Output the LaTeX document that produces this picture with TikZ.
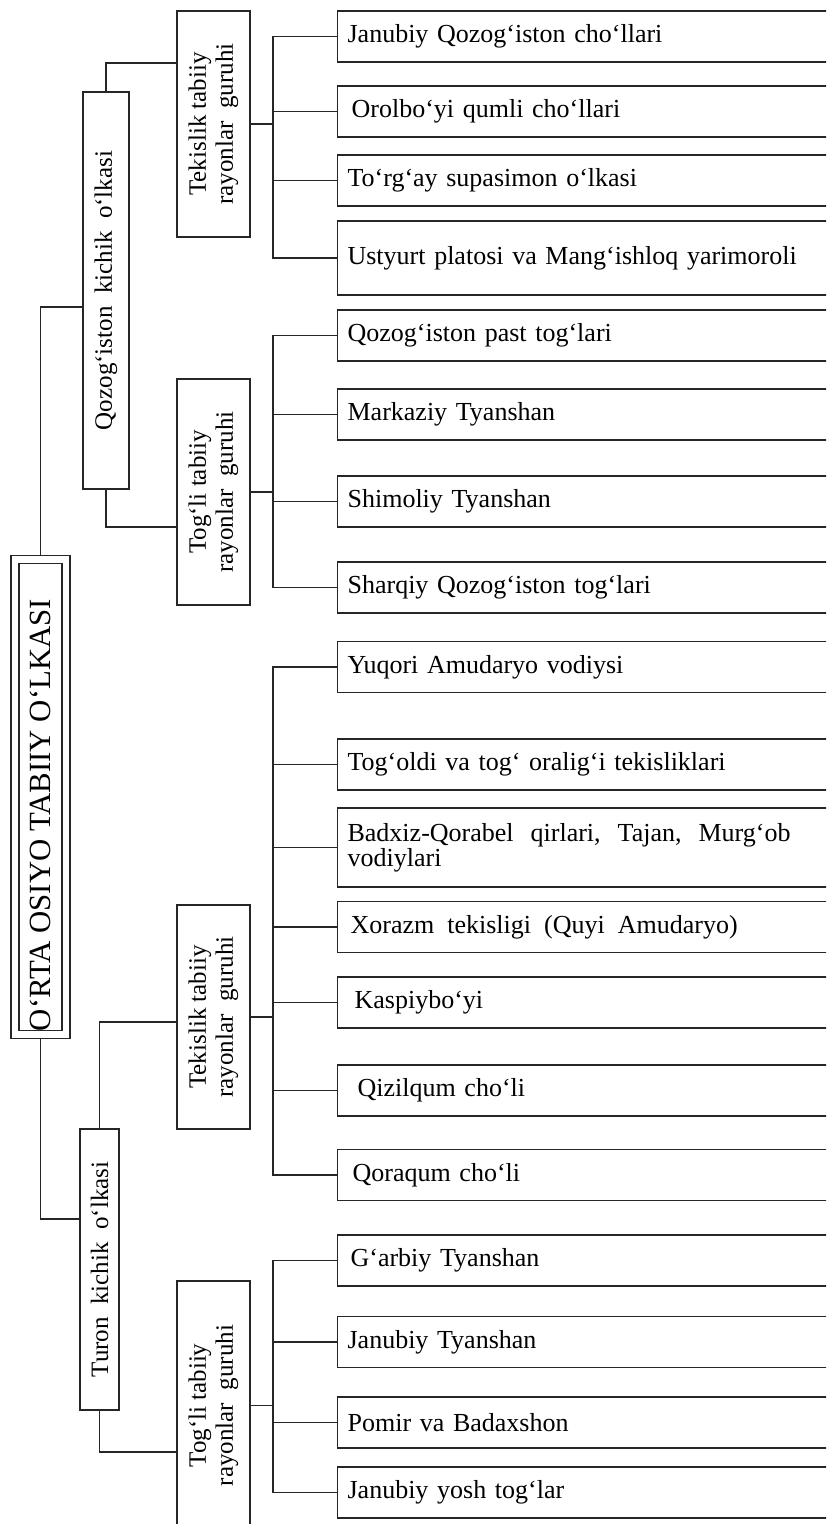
\documentclass[tikz,border=0pt]{standalone}
\usepackage{fontspec}
\setmainfont{Liberation Serif}[WordSpace=2]
\newfontfamily\narrowsp{Liberation Serif}
\begin{document}
\begin{tikzpicture}[x=0.5pt,y=-0.5pt,line width=0.6pt,draw=black!85,
  mainbox/.style={draw,double,double distance=3.4pt,rotate=90,inner sep=0pt,
    outer sep=2pt,minimum width=237.5pt,minimum height=25.5pt,
    font=\fontsize{15.4}{17}\selectfont\narrowsp},
  subbox/.style={draw,rotate=90,inner sep=0pt,font=\fontsize{12.5}{14}\selectfont},
  groupbox/.style={draw,rotate=90,inner sep=0pt,minimum height=36.5pt,align=center,
    font=\fontsize{12.5}{13.5}\selectfont},
  leaf/.style={draw,anchor=west,text width=250pt,inner xsep=5pt,inner ysep=0pt,
    minimum height=25.5pt,align=left,font=\fontsize{13}{12.5}\selectfont}]
\useasboundingbox (0,0) rectangle (826,1524);
\clip (0,0) rectangle (826,1524);
\coordinate (bus) at (273,0);
% region and sub-regions (rotated: north = left, east = top)
\node[mainbox] (main) at (40.5,797) {O‘RTA OSIYO TABIIY O‘LKASI\hspace*{18pt}};
\node[subbox,minimum width=198.5pt,minimum height=23pt] (qoz) at (106,290.5) {Qozog‘iston kichik o‘lkasi};
\node[subbox,minimum width=140.5pt,minimum height=19.5pt] (turon) at (99.5,1269.5) {Turon kichik o‘lkasi};
% groups
\node[groupbox,minimum width=113pt] (tek1) at (213.5,124) {{\narrowsp Tekislik tabiiy}\\rayonlar guruhi};
\node[groupbox,minimum width=113pt] (tog1) at (213.5,492) {{\narrowsp Tog‘li tabiiy}\\rayonlar guruhi};
\node[groupbox,minimum width=112pt] (tek2) at (213.5,1017) {{\narrowsp Tekislik tabiiy}\\rayonlar guruhi};
\node[groupbox,minimum width=124.5pt] (tog2) at (213.5,1405.5) {{\narrowsp Tog‘li tabiiy}\\rayonlar guruhi};
% districts
\node[leaf] (l1) at (337,36.5) {Janubiy Qozog‘iston cho‘llari};
\node[leaf] (l2) at (337,111.5) {\hspace*{2pt}Orolbo‘yi qumli cho‘llari};
\node[leaf] (l3) at (337,180.5) {To‘rg‘ay supasimon o‘lkasi};
\node[leaf,minimum height=37pt] (l4) at (337,258) {\narrowsp Ustyurt platosi va Mang‘ishloq yarimoroli};
\node[leaf] (l5) at (337,335.5) {Qozog‘iston past tog‘lari};
\node[leaf] (l6) at (337,414.5) {Markaziy Tyanshan};
\node[leaf] (l7) at (337,501.5) {Shimoliy Tyanshan};
\node[leaf] (l8) at (337,587.5) {Sharqiy Qozog‘iston tog‘lari};
\node[leaf] (l9) at (337,667) {Yuqori Amudaryo vodiysi};
\node[leaf] (l10) at (337,764.5) {\narrowsp Tog‘oldi va tog‘ oralig‘i tekisliklari};
\node[leaf,minimum height=39.5pt] (l11) at (337,847.5) {\spaceskip=8.5pt\relax Badxiz-Qorabel qirlari, Tajan, Murg‘ob\\vodiylari};
\node[leaf] (l12) at (337,927) {\spaceskip=6.5pt\relax\hspace*{1.5pt}Xorazm tekisligi (Quyi Amudaryo)};
\node[leaf] (l13) at (337,1002.5) {\hspace*{3.5pt}Kaspiybo‘yi};
\node[leaf] (l14) at (337,1090.5) {\hspace*{5pt}Qizilqum cho‘li};
\node[leaf] (l15) at (337,1175) {\hspace*{2.5pt}Qoraqum cho‘li};
\node[leaf] (l16) at (337,1260.5) {\hspace*{1.5pt}G‘arbiy Tyanshan};
\node[leaf] (l17) at (337,1342) {Janubiy Tyanshan};
\node[leaf] (l18) at (337,1422.5) {Pomir va Badaxshon};
\node[leaf] (l19) at (337,1492.5) {Janubiy yosh tog‘lar};
% tree connectors
\draw (main.east) |- (qoz.north |- 0,307);
\draw (main.west) |- (turon.north |- 0,1219);
\draw (qoz.east) |- (tek1.north |- 0,63);
\draw (qoz.west) |- (tog1.north |- 0,527);
\draw (turon.east) |- (tek2.north |- 0,1022);
\draw (turon.west) |- (tog2.north |- 0,1452);
% buses
\draw (tek1.south) -- (tek1.south -| bus);
\draw (l1.west) -| (l4.west -| bus) -- (l4.west);
\draw (l2.west) -- (l2.west -| bus) (l3.west) -- (l3.west -| bus);
\draw (tog1.south) -- (tog1.south -| bus);
\draw (l5.west) -| (l8.west -| bus) -- (l8.west);
\draw (l6.west) -- (l6.west -| bus) (l7.west) -- (l7.west -| bus);
\draw (tek2.south) -- (tek2.south -| bus);
\draw (l9.west) -| (l15.west -| bus) -- (l15.west);
\draw (l10.west) -- (l10.west -| bus) (l11.west) -- (l11.west -| bus)
  (l12.west) -- (l12.west -| bus) (l13.west) -- (l13.west -| bus)
  (l14.west) -- (l14.west -| bus);
\draw (tog2.south) -- (tog2.south -| bus);
\draw (l16.west) -| (l19.west -| bus) -- (l19.west);
\draw (l17.west) -- (l17.west -| bus) (l18.west) -- (l18.west -| bus);
\end{tikzpicture}
\end{document}
